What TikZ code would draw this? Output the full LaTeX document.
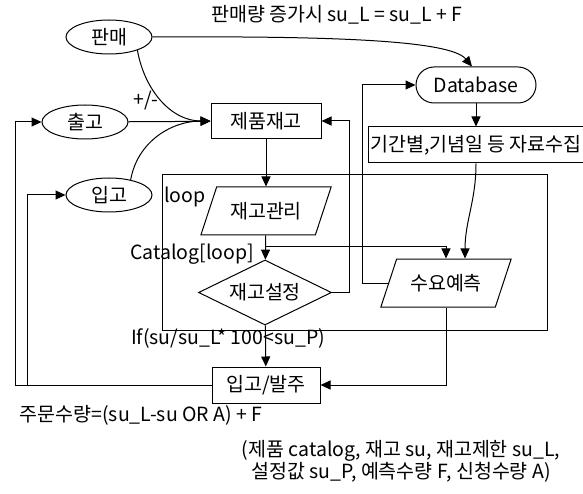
\documentclass[tikz,border=0pt]{standalone}
\usepackage{fontspec}
\setmainfont{Noto Sans CJK KR}
\usepackage{tikz}
\usetikzlibrary{shapes.geometric, arrows.meta, calc}

\begin{document}
\begin{tikzpicture}[x=1pt, y=-1pt, line width=1pt, every node/.style={font=\fontsize{19.5}{22}\selectfont}] % 1 unit = 1 px, y downwards
        % Define block styles
        \tikzstyle{block} = [rectangle, draw, minimum width=110pt, minimum height=35pt, inner sep=2pt]
        \tikzstyle{event} = [ellipse, draw, minimum width=86pt, minimum height=34pt, inner sep=0pt]
        \tikzstyle{store} = [rectangle, draw, rounded corners=18pt, minimum width=120pt, minimum height=36pt]
        \tikzstyle{io} = [trapezium, draw, trapezium left angle=57, trapezium right angle=123, trapezium stretches=true, minimum width=131pt, minimum height=48pt, inner sep=0pt]
        \tikzstyle{decision} = [diamond, draw, aspect=2, minimum width=133pt, minimum height=65pt, inner sep=0pt]
        \tikzstyle{arrow} = [->, >={Triangle[length=10pt, width=9pt]}]

        \useasboundingbox (0,0) rectangle (583,494);

        % Blocks
        \node (title) at (337,15) {판매량 증가시 su\_L = su\_L + F};
        \node (sale) [event] at (109,37) {판매};
        \node (ship) [event] at (85,122) {출고};
        \node (recv) [event] at (109,195) {입고};
        \node (stock) [block] at (266,121) {제품재고};
        \node (db) [store] at (476,85) {Database};
        \node (collect) [block, minimum width=212pt, minimum height=36pt] at (476,145) {기간별,기념일 등 자료수집};
        \node (loopframe) [draw, minimum width=385pt, minimum height=155pt] at (354.5,252.5) {};
        \node (looplabel) at (185,197) {loop};
        \node (manage) [io] at (266,211) {재고관리};
        \node (setting) [decision] at (265,292.5) {재고설정};
        \node (forecast) [io] at (446,283) {수요예측};
        \node (order) [block, minimum width=108pt, minimum height=36pt] at (266,385) {입고/발주};
        \node (qty) at (141,415) {주문수량=(su\_L-su OR A) + F};
        \node (legend) [align=center] at (401,461) {(제품 catalog, 재고 su, 재고제한 su\_L,\\설정값 su\_P, 예측수량 F, 신청수량 A)};
        \coordinate (branch) at (266,247);
        \coordinate (fcleft) at ($(forecast.bottom left corner)!0.5!(forecast.top left corner)$);

        % Labels
        \node (pmlabel) at (146,101) {+/-};
        \node (catlabel) at (192,254) {Catalog[loop]};
        \node (iflabel) at (228,338) {If(su/su\_L* 100<su\_P)};

        % Arrows
        \draw [arrow] (ship) -- (stock);
        \draw [arrow] (sale.-25) to[out=-80, in=180] (stock.west);
        \draw [arrow] (recv.35) to[out=80, in=180] (stock.west);
        \draw [arrow] (sale.east) .. controls (330,36) and (450,40) .. ([xshift=-4pt]db.north);
        \draw [arrow] (db) -- (collect);
        \draw [arrow] (collect.south) to[out=-90, in=90] ([xshift=19pt]forecast.north);
        \draw [arrow] (stock) -- (manage);
        \draw [arrow] (manage) -- (setting);
        \draw [arrow] (branch) -| (forecast.north);
        \draw [arrow] (setting.east) -- ++(17,0) |- (stock.east);
        \draw [arrow] (setting) -- (order);
        \draw [arrow] (forecast.south) |- (order.east);
        \draw [arrow] (fcleft) -| ([xshift=-53pt]db.west) -- (db.west);
        \draw [arrow] (order.west) -- ++(-196,0) |- (ship.west);
        \draw [arrow] (order.west) -- ++(-184,0) |- (recv.west);
\end{tikzpicture}
\end{document}
